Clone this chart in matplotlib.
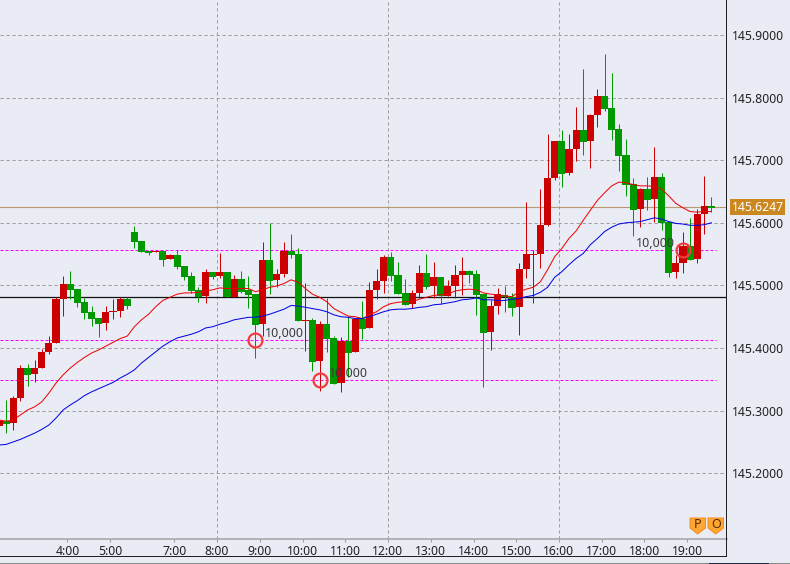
#!/usr/bin/env python3
# -*- coding: utf-8 -*-
import numpy as np
import matplotlib
matplotlib.use("Agg")
import matplotlib.pyplot as plt
from matplotlib.patches import Polygon, Rectangle

plt.rcParams["font.family"] = ["Noto Sans", "DejaVu Sans"]

BG = "#E9ECF5"
UP = "#CC0000"
DOWN = "#009900"

# 10 minute candles, prices as offset from 145
opens = np.array([
    .276, .284, .280, .320, .368, .359, .368, .394, .408, .478,
    .502, .494, .474, .458, .448, .440, .458, .459, .478, .585,
    .571, .555, .553, .555, .542, .549, .531, .515, .493, .483,
    .521, .515, .521, .482, .510, .493, .486, .438, .541, .509,
    .518, .555, .550, .443, .445, .379, .438, .416, .344, .411,
    .394, .446, .432, .493, .507, .545, .517, .488, .470, .488,
    .520, .499, .513, .483, .499, .517, .523, .518, .486, .426,
    .467, .485, .481, .465, .526, .549, .550, .596, .672, .731,
    .680, .718, .748, .731, .772, .803, .783, .750, .708, .662,
    .622, .654, .638, .673, .601, .521, .536, .563, .542, .614, .627]) + 145
closes = np.array([
    .284, .279, .320, .368, .357, .368, .394, .408, .478, .502,
    .493, .472, .456, .446, .438, .458, .459, .478, .467, .569,
    .553, .552, .555, .541, .549, .529, .514, .491, .481, .521,
    .513, .521, .482, .510, .490, .485, .437, .541, .507, .518,
    .555, .549, .443, .445, .378, .438, .414, .343, .411, .392,
    .446, .430, .493, .507, .545, .515, .486, .469, .488, .520,
    .498, .513, .483, .499, .517, .523, .517, .485, .424, .467,
    .486, .481, .464, .526, .550, .550, .596, .672, .731, .678,
    .718, .748, .729, .772, .803, .782, .748, .707, .660, .620,
    .654, .636, .673, .600, .520, .536, .563, .540, .614, .627, .624]) + 145
highs = np.array([
    .284, .317, .323, .373, .375, .381, .398, .419, .481, .515,
    .523, .494, .480, .467, .448, .467, .478, .481, .481, .595,
    .571, .555, .555, .555, .550, .557, .531, .521, .497, .526,
    .521, .552, .521, .517, .523, .515, .486, .569, .600, .526,
    .569, .582, .560, .504, .448, .443, .480, .419, .418, .451,
    .446, .475, .505, .526, .549, .553, .537, .510, .493, .533,
    .550, .537, .513, .509, .533, .545, .525, .525, .486, .477,
    .496, .499, .488, .536, .633, .557, .654, .742, .731, .748,
    .742, .785, .846, .774, .814, .870, .839, .758, .734, .672,
    .656, .673, .721, .680, .601, .548, .585, .608, .622, .675, .641]) + 145
lows = np.array([
    .276, .265, .269, .316, .339, .346, .368, .391, .408, .451,
    .478, .466, .446, .435, .418, .429, .446, .450, .462, .560,
    .553, .549, .553, .531, .542, .526, .509, .488, .474, .472,
    .510, .512, .482, .481, .488, .464, .384, .419, .486, .498,
    .513, .544, .443, .395, .363, .331, .394, .343, .330, .354,
    .394, .414, .432, .478, .488, .507, .486, .469, .464, .480,
    .494, .480, .470, .483, .480, .485, .504, .453, .337, .397,
    .454, .457, .451, .421, .512, .472, .528, .595, .668, .657,
    .676, .699, .708, .688, .753, .779, .732, .683, .643, .579,
    .593, .620, .601, .588, .513, .512, .520, .540, .536, .582, .617]) + 145

red_ma = np.array([
    .285, .283, .285, .293, .301, .306, .314, .328, .344, .357,
    .368, .377, .385, .392, .397, .403, .409, .415, .419, .434,
    .445, .454, .466, .476, .481, .486, .488, .488, .489, .491,
    .493, .496, .495, .495, .495, .495, .490, .493, .497, .499,
    .503, .509, .505, .495, .486, .481, .474, .463, .457, .451,
    .450, .447, .453, .458, .466, .471, .473, .474, .474, .478,
    .481, .484, .485, .486, .491, .493, .494, .493, .488, .486,
    .485, .483, .482, .490, .494, .497, .506, .525, .546, .559,
    .575, .587, .604, .620, .636, .648, .659, .665, .664, .661,
    .659, .659, .658, .654, .643, .631, .624, .618, .617, .618, .618]) + 145
blue_ma = np.array([
    .245, .246, .250, .254, .259, .264, .270, .277, .288, .301,
    .309, .316, .324, .330, .335, .340, .345, .352, .358, .365,
    .376, .385, .394, .403, .410, .416, .419, .422, .426, .432,
    .434, .438, .441, .445, .447, .449, .449, .451, .454, .458,
    .462, .468, .467, .465, .463, .461, .458, .453, .450, .449,
    .447, .447, .450, .454, .458, .461, .462, .462, .463, .465,
    .466, .469, .470, .472, .474, .477, .478, .480, .477, .477,
    .476, .476, .478, .479, .482, .484, .489, .497, .513, .522,
    .533, .543, .551, .565, .575, .586, .593, .598, .600, .601,
    .602, .605, .608, .606, .602, .599, .598, .596, .596, .597, .600]) + 145

price_ticks = [145.2, 145.3, 145.4, 145.5, 145.6, 145.7, 145.8, 145.9]
price_labels = ["145.2000", "145.3000", "145.4000", "145.5000",
                "145.6000", "145.7000", "145.8000", "145.9000"]
time_pos = [9.6, 15.6, 24.6, 30.6, 36.6, 42.6, 48.6, 54.6, 60.6, 66.6, 72.6, 78.6, 84.6, 90.6, 96.6]
time_labels = ["4:00", "5:00", "7:00", "8:00", "9:00", "10:00", "11:00", "12:00",
               "13:00", "14:00", "15:00", "16:00", "17:00", "18:00", "19:00"]
vgrid_pos = [30.6, 54.6, 78.6]

level_prices = [145.556, 145.413, 145.349]
last_price = 145.6247
black_level = 145.4815
order_index = [36, 45, 96]
order_price = [145.413, 145.349, 145.556]
order_labels = ["10,000", "10,000", "10,000"]
order_offset = [(7, 0), (7, 0), (-34, 0)]


def px_rect(fig, x, y, w, h, **kw):
    """Rectangle given in screen pixels from the top left."""
    fig.add_artist(Rectangle((x / 790, 1 - (y + h) / 564), w / 790, h / 564,
                             transform=fig.transFigure, **kw))


def badge(fig, x, letter):
    pts = [(x, 518), (x + 15.5, 518), (x + 15.5, 528), (x + 7.7, 534), (x, 528)]
    pts = [(a / 790, 1 - b / 564) for a, b in pts]
    fig.add_artist(Polygon(pts, closed=True, transform=fig.transFigure,
                           facecolor="#FFA733", edgecolor="#F58A1F", lw=0.7))
    fig.text((x + 7.7) / 790, 1 - 525 / 564, letter, ha="center", va="center",
             fontsize=9, fontweight="bold", color="#5A2A00")


def main():
    fig = plt.figure(figsize=(7.9, 5.64), dpi=100, facecolor=BG)
    ax = fig.add_axes([0, 25 / 564, 727 / 790, 539 / 564], facecolor=BG)

    # grid and level lines
    for p in price_ticks:
        ax.axhline(p, color="#A0A0A0", lw=0.72, ls=(0, (3.3, 2.7)), zorder=1)
    for x in vgrid_pos:
        ax.axvline(x, color="#A0A0A0", lw=0.72, ls=(0, (3.3, 2.7)), zorder=1)
    ax.hlines(level_prices, 0.14, 100.6, color="#FF00FF", lw=0.72, ls=(0, (3, 2)), zorder=1)
    ax.axhline(black_level, color="#111111", lw=0.9, zorder=1.5)
    ax.axhline(last_price, color="#B99A70", lw=0.8, zorder=1.5)

    # candles
    idx = np.arange(len(opens))
    colors = [UP if c >= o else DOWN for o, c in zip(opens, closes)]
    ax.vlines(idx, lows, highs, colors=colors, lw=0.72, zorder=2)
    tops = np.maximum(opens, closes)
    bottoms = np.minimum(opens, closes)
    ax.bar(idx, np.maximum(tops - bottoms, 0.0015), bottom=bottoms, width=1.0,
           color=colors, lw=0, antialiased=False, zorder=3)

    # moving averages
    ax.plot(idx, red_ma, color="#F00000", lw=0.72, zorder=4)
    ax.plot(idx, blue_ma, color="#0000E6", lw=0.72, zorder=4)

    # order markers
    ax.plot(order_index, order_price, ls="none", marker="o", ms=10, mfc="none",
            mec="#F23C3C", mew=1.6, zorder=5)
    for i, p, s, off in zip(order_index, order_price, order_labels, order_offset):
        ax.annotate(s, (i, p), xytext=off, textcoords="offset points",
                    fontsize=9, color="#3A3A3A", va="bottom", zorder=6)

    ax.set_xlim(0.14, 102.18)
    ax.set_ylim(145.0949, 145.9559)

    ax.set_xticks(time_pos, time_labels)
    ax.set_yticks(price_ticks, price_labels)
    ax.yaxis.tick_right()
    ax.tick_params(axis="y", length=0, pad=3.5, labelsize=8.8, colors="#222222")
    ax.tick_params(axis="x", length=2, width=0.8, color="#A0A0A0", pad=2,
                   labelsize=8.8, labelcolor="#222222")
    for side in ("left", "top", "right"):
        ax.spines[side].set_visible(False)
    ax.spines["bottom"].set_color("#A8A8A8")
    ax.spines["bottom"].set_linewidth(1.2)

    # tick label cut off by the left edge
    ax.annotate("2:00", (-1.6, 0), xycoords=ax.get_xaxis_transform(), xytext=(0, -4),
                textcoords="offset points", ha="center", va="top", fontsize=8.8,
                color="#222222", annotation_clip=False)

    # current price tag
    ax.annotate("145.6247", (1, last_price), xycoords=ax.get_yaxis_transform(),
                xytext=(3.5, 0), textcoords="offset points", va="center", fontsize=8.8,
                color="white", annotation_clip=False, zorder=7,
                bbox=dict(boxstyle="square,pad=0.12", fc="#CC8820", ec="none"))

    # window frame
    px_rect(fig, 726, 0, 1.4, 557, fc="#222222", ec="none")
    px_rect(fig, 0, 555.6, 727, 1.4, fc="#222222", ec="none")
    px_rect(fig, 0, 562.5, 790, 1.5, fc="#8A8A8A", ec="none")
    px_rect(fig, 709, 562.5, 60, 1.5, fc="#1F2A40", ec="none")

    badge(fig, 690, "P")
    badge(fig, 708, "O")

    fig.savefig("out.png", dpi=100, facecolor=BG)


if __name__ == "__main__":
    main()
